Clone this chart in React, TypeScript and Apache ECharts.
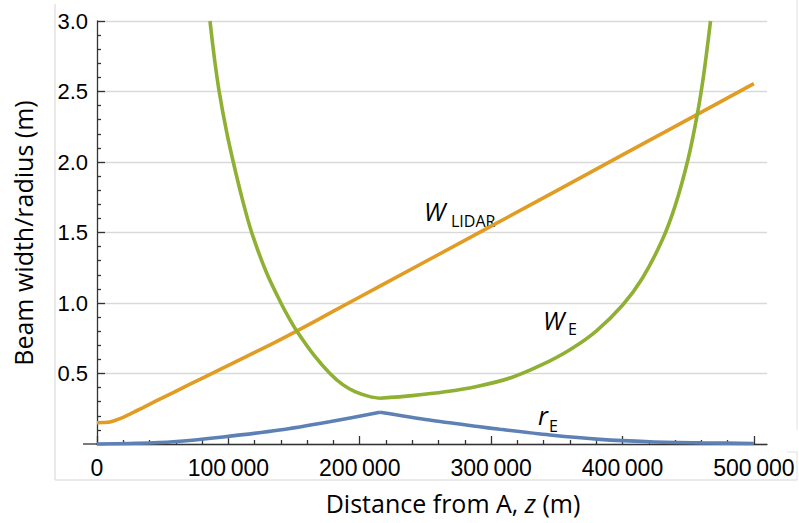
import React, { useEffect, useRef } from "react";
import * as echarts from "echarts";

// ---------- data ----------
const xMajorTicks = [0, 100000, 200000, 300000, 400000, 500000];
const xMinorTicks = [
  20000, 40000, 60000, 80000, 120000, 140000, 160000, 180000, 220000, 240000, 260000, 280000,
  320000, 340000, 360000, 380000, 420000, 440000, 460000, 480000,
];

// W_LIDAR (orange)
const wLidarZ = [0, 5000, 9900, 17000, 25100, 35000, 45400, 58000, 70800, 96100, 131700, 153000, 180000, 215000, 300000, 400000, 500000];
const wLidarV = [0.151, 0.152, 0.156, 0.178, 0.212, 0.258, 0.307, 0.365, 0.424, 0.54, 0.703, 0.806, 0.942, 1.118, 1.545, 2.05, 2.556];

// W_E (green), left and right of the kink
const weLeftZ = [86000, 89500, 93000, 98400, 103730, 110700, 117730, 128900, 140000, 146600, 153200, 165300, 177320, 186800, 196350, 207770, 215400];
const weLeftV = [3.0, 2.726, 2.5, 2.226, 2.0, 1.733, 1.5, 1.218, 1.0, 0.886, 0.785, 0.628, 0.5, 0.423, 0.372, 0.336, 0.324];
const weRightZ = [215400, 240000, 265000, 290000, 315000, 337500, 360000, 380000, 400000, 415000, 430000, 440000, 450000, 457000, 462000, 467000];
const weRightV = [0.324, 0.343, 0.37, 0.41, 0.47, 0.557, 0.669, 0.801, 0.984, 1.174, 1.441, 1.687, 2.023, 2.341, 2.632, 3.0];

// r_E (blue)
const rELeftZ = [0, 30000, 58000, 96000, 139000, 177000, 215400];
const rELeftV = [0, 0.005, 0.016, 0.05, 0.099, 0.158, 0.225];
const rERightZ = [215400, 253000, 291500, 306700, 344800, 382800, 420800, 460000, 500000];
const rERightV = [0.225, 0.17, 0.122, 0.104, 0.064, 0.033, 0.016, 0.008, 0.004];

const BLUE = "#5E81B5";
const ORANGE = "#E19C24";
const GREEN = "#8FB032";
const AXIS = "#333333";
const LABEL_FONT = "'Liberation Sans', Arial, sans-serif";
const TITLE_FONT = "'Open Sans', sans-serif";

const zip = (xs: number[], ys: number[]) => xs.map((x, i) => [x, ys[i]]);

const fmtX = (v: number) => {
  if (v === 0) return "0";
  const s = String(Math.round(v));
  return s.slice(0, s.length - 3) + "\u2009" + s.slice(s.length - 3);
};

function lineSeries(name: string, data: number[][], color: string) {
  return {
    type: "line",
    name,
    data,
    xAxisIndex: 0,
    yAxisIndex: 0,
    showSymbol: false,
    symbol: "none",
    smooth: 0.3,
    clip: true,
    lineStyle: { color, width: 3.6, cap: "butt" },
    z: 3,
  };
}

export default function App() {
  const ref = useRef<HTMLDivElement>(null);
  useEffect(() => {
    if (!ref.current) return;
    const chart = echarts.init(ref.current, undefined, { renderer: "svg" });
    const tickStyle = { color: AXIS, width: 1.3 };
    const option: any = {
      animation: false,
      backgroundColor: "#ffffff",
      grid: { left: 97, right: 32, top: 21, bottom: 79, containLabel: false },
      xAxis: [
        {
          type: "value",
          min: 0,
          max: 510000,
          position: "bottom",
          axisLine: { show: true, onZero: false, lineStyle: tickStyle },
          axisTick: { show: true, inside: true, length: 8, customValues: xMajorTicks, lineStyle: tickStyle },
          axisLabel: {
            customValues: xMajorTicks,
            formatter: fmtX,
            fontSize: 23,
            color: "#000",
            fontFamily: LABEL_FONT,
            margin: 12,
          },
          splitLine: { show: false },
        },
        {
          type: "value",
          min: 0,
          max: 510000,
          position: "bottom",
          axisLine: { show: false },
          axisTick: { show: true, inside: true, length: 4, customValues: xMinorTicks, lineStyle: tickStyle },
          axisLabel: { show: false, customValues: xMinorTicks },
          splitLine: { show: false },
        },
      ],
      yAxis: {
        type: "value",
        min: 0,
        max: 3,
        interval: 0.5,
        axisLine: { show: true, onZero: false, lineStyle: tickStyle },
        axisTick: { show: true, inside: true, length: 8, lineStyle: tickStyle },
        minorTick: { show: true, splitNumber: 5, length: 4, lineStyle: tickStyle },
        axisLabel: {
          formatter: (v: number) => (v === 0 ? "" : v.toFixed(1)),
          fontSize: 22,
          color: "#000",
          fontFamily: LABEL_FONT,
          margin: 9,
        },
        splitLine: { show: true, lineStyle: { color: "#d9d9d9", width: 1.3 } },
      },
      series: [
        lineSeries("rE-left", zip(rELeftZ, rELeftV), BLUE),
        lineSeries("rE-right", zip(rERightZ, rERightV), BLUE),
        lineSeries("WLIDAR", zip(wLidarZ, wLidarV), ORANGE),
        lineSeries("WE-left", zip(weLeftZ, weLeftV), GREEN),
        lineSeries("WE-right", zip(weRightZ, weRightV), GREEN),
      ],
      graphic: [
        // frame lines of the reference image
        { type: "line", shape: { x1: 55, y1: 4, x2: 55, y2: 480 }, style: { stroke: "#d4d4d4", lineWidth: 1 }, silent: true },
        { type: "line", shape: { x1: 55, y1: 480, x2: 797, y2: 480 }, style: { stroke: "#d4d4d4", lineWidth: 1 }, silent: true },
        { type: "line", shape: { x1: 797, y1: 0, x2: 797, y2: 430 }, style: { stroke: "#e0e0e0", lineWidth: 1 }, silent: true },
        { type: "line", shape: { x1: 787, y1: 452, x2: 797, y2: 452 }, style: { stroke: "#e0e0e0", lineWidth: 1 }, silent: true },
        { type: "line", shape: { x1: 797, y1: 452, x2: 797, y2: 480 }, style: { stroke: "#e0e0e0", lineWidth: 1 }, silent: true },
        // x-axis extension left of the y axis
        { type: "line", shape: { x1: 83, y1: 444, x2: 97, y2: 444 }, style: { stroke: AXIS, lineWidth: 1.3 }, silent: true },
        // axis titles
        {
          type: "text",
          x: 453,
          y: 503,
          style: {
            text: "Distance from A, {i|z} (m)",
            font: `25px ${TITLE_FONT}`,
            fill: "#000",
            align: "center",
            verticalAlign: "middle",
            rich: { i: { fontStyle: "italic", fontSize: 25, fontFamily: TITLE_FONT, fill: "#000" } },
          },
        },
        {
          type: "text",
          x: 23,
          y: 233,
          rotation: Math.PI / 2,
          style: {
            text: "Beam width/radius (m)",
            font: `25px ${TITLE_FONT}`,
            fill: "#000",
            align: "center",
            verticalAlign: "middle",
          },
        },
        // curve labels
        { type: "text", x: 424, y: 210.5, style: { text: "W", font: `italic 25px ${TITLE_FONT}`, fill: "#000", align: "left", verticalAlign: "middle" } },
        { type: "text", x: 451, y: 221, style: { text: "LIDAR", font: `16px ${TITLE_FONT}`, fill: "#000", align: "left", verticalAlign: "middle" } },
        { type: "text", x: 543, y: 319.5, style: { text: "W", font: `italic 25px ${TITLE_FONT}`, fill: "#000", align: "left", verticalAlign: "middle" } },
        { type: "text", x: 568, y: 328.5, style: { text: "E", font: `16px ${TITLE_FONT}`, fill: "#000", align: "left", verticalAlign: "middle" } },
        { type: "text", x: 538, y: 415, style: { text: "r", font: `italic 25px ${TITLE_FONT}`, fill: "#000", align: "left", verticalAlign: "middle" } },
        { type: "text", x: 549, y: 426, style: { text: "E", font: `16px ${TITLE_FONT}`, fill: "#000", align: "left", verticalAlign: "middle" } },
      ],
    };
    chart.setOption(option);
    return () => chart.dispose();
  }, []);
  return <div ref={ref} style={{ width: 799, height: 523, position: "absolute", left: 0, top: 0 }} />;
}
